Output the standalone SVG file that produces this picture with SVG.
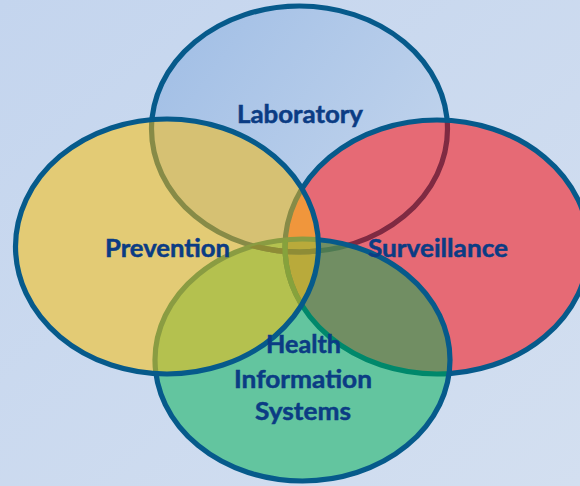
<svg xmlns="http://www.w3.org/2000/svg" xmlns:xlink="http://www.w3.org/1999/xlink" width="580" height="486" viewBox="0 0 580 486">
<defs>
<linearGradient id="bg" x1="0" y1="0" x2="1" y2="1">
<stop offset="0" stop-color="#c4d5ee"/>
<stop offset="1" stop-color="#d3dff0"/>
</linearGradient>
<linearGradient id="labg" x1="0" y1="0" x2="1" y2="0.6">
<stop offset="0" stop-color="#9fbde5"/>
<stop offset="1" stop-color="#c0d3ec"/>
</linearGradient>
<ellipse id="eLab" cx="299.5" cy="129" rx="148" ry="123"/>
<ellipse id="eYel" cx="167" cy="246.5" rx="151.5" ry="127.5"/>
<ellipse id="eRed" cx="437" cy="247" rx="152" ry="127"/>
<ellipse id="eGrn" cx="302.5" cy="360" rx="147.5" ry="121"/>
<clipPath id="cLab"><ellipse cx="299.5" cy="129" rx="148" ry="123"/></clipPath>
<clipPath id="cYel"><ellipse cx="167" cy="246.5" rx="151.5" ry="127.5"/></clipPath>
<clipPath id="cRed"><ellipse cx="437" cy="247" rx="152" ry="127"/></clipPath>
<clipPath id="cGrn"><ellipse cx="302.5" cy="360" rx="147.5" ry="121"/></clipPath>
</defs>
<style>
.ln{fill:none;stroke-width:5.2}
.blue{stroke:#065a8b}
.lbl{font-family:Lato,"Open Sans","Liberation Sans",sans-serif;font-weight:bold;font-size:25px;fill:#0b3c84;stroke:#0b3c84;stroke-width:0.5;text-anchor:middle}
</style>
<rect width="580" height="486" fill="url(#bg)"/>

<g id="laboratory">
<use xlink:href="#eLab" fill="url(#labg)"/>
<use xlink:href="#eLab" class="ln blue"/>
</g>

<g id="surveillance">
<use xlink:href="#eRed" fill="#e66a75"/>
<use xlink:href="#eLab" class="ln" stroke="#7f2a42" clip-path="url(#cRed)"/>
<use xlink:href="#eRed" class="ln blue"/>
</g>

<g id="health-information-systems">
<use xlink:href="#eGrn" fill="#63c59f"/>
<use xlink:href="#eGrn" fill="#718e63" clip-path="url(#cRed)"/>
<use xlink:href="#eLab" class="ln" stroke="#4e7a52" clip-path="url(#cGrn)"/>
<use xlink:href="#eRed" class="ln" stroke="#00886b" clip-path="url(#cGrn)"/>
<use xlink:href="#eGrn" class="ln blue"/>
</g>

<g id="prevention">
<use xlink:href="#eYel" fill="#e3cb75"/>
<use xlink:href="#eYel" fill="#d6c173" clip-path="url(#cLab)"/>
<use xlink:href="#eYel" fill="#f0963c" clip-path="url(#cRed)"/>
<use xlink:href="#eYel" fill="#b4c14f" clip-path="url(#cGrn)"/>
<g clip-path="url(#cRed)"><use xlink:href="#eYel" fill="#b9aa3b" clip-path="url(#cGrn)"/></g>
<g clip-path="url(#cYel)">
<use xlink:href="#eLab" class="ln" stroke="#878b47"/>
<use xlink:href="#eRed" class="ln" stroke="#878b47"/>
<use xlink:href="#eGrn" class="ln" stroke="#8a9c42"/>
<g clip-path="url(#cGrn)">
<use xlink:href="#eLab" class="ln" stroke="#8e8c36"/>
<use xlink:href="#eRed" class="ln" stroke="#86a23c"/>
</g>
</g>
<use xlink:href="#eYel" class="ln blue"/>
</g>

<g id="connectors"/>

<g id="labels">
<text class="lbl" x="300" y="123" textLength="126" lengthAdjust="spacingAndGlyphs">Laboratory</text>
<text class="lbl" x="167.5" y="257" textLength="125" lengthAdjust="spacingAndGlyphs">Prevention</text>
<text class="lbl" x="438" y="257" textLength="140" lengthAdjust="spacingAndGlyphs">Surveillance</text>
<text class="lbl" x="303.5" y="353" textLength="75" lengthAdjust="spacingAndGlyphs">Health</text>
<text class="lbl" x="303" y="388" textLength="138" lengthAdjust="spacingAndGlyphs">Information</text>
<text class="lbl" x="303" y="420" textLength="96" lengthAdjust="spacingAndGlyphs">Systems</text>
</g>
</svg>
